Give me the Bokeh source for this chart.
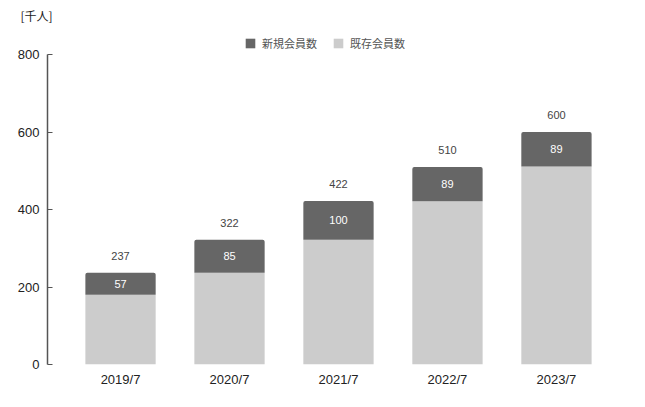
from bokeh.plotting import figure
from bokeh.models import ColumnDataSource, FixedTicker, Legend, LegendItem
from bokeh.core.properties import value
from bokeh.embed import file_html
from bokeh.resources import INLINE

categories = ["2019/7", "2020/7", "2021/7", "2022/7", "2023/7"]
totals = [237, 322, 422, 510, 600]
new_members = [57, 85, 100, 89, 89]
existing_members = [t - n for t, n in zip(totals, new_members)]
y_ticks = [0, 200, 400, 600, 800]

xs = list(range(len(categories)))
src = ColumnDataSource(dict(
    x=xs,
    existing=existing_members,
    new=new_members,
    total=totals,
    new_mid=[e + n / 2 for e, n in zip(existing_members, new_members)],
    new_txt=[str(n) for n in new_members],
    total_txt=[str(t) for t in totals],
))

NUM_FONT = "Liberation Sans"
JP_FONT = "Noto Sans CJK JP"

p = figure(width=629, height=391, output_backend="svg", toolbar_location=None,
           x_range=(-0.67, 4.45), y_range=(0, 880),
           min_border_left=47, min_border_right=24, min_border_top=23, min_border_bottom=27)
p.outline_line_color = None
p.xgrid.visible = False
p.ygrid.visible = False
p.background_fill_color = "white"

p.title.text = "[千人]"
p.title.align = "left"
p.title.offset = -27
p.title.standoff = 0
p.title.text_font = JP_FONT
p.title.text_font_size = "12px"
p.title.text_font_style = "normal"
p.title.text_color = "#222222"

r_exist = p.vbar(x="x", top="existing", bottom=0, width=0.645, source=src,
                 fill_color="#cccccc", line_color=None)
r_new = p.vbar(x="x", top="total", bottom="existing", width=0.645, source=src,
               fill_color="#666666", line_color=None, border_radius=[2, 2, 0, 0])

p.text(x="x", y="new_mid", text="new_txt", source=src, text_color="white",
       text_font=value(NUM_FONT), text_font_size="11px", text_align="center",
       text_baseline="middle")
p.text(x="x", y="total", text="total_txt", source=src, text_color="#444444",
       text_font=value(NUM_FONT), text_font_size="11px", text_align="center",
       text_baseline="middle", y_offset=-17)

# y axis
ya = p.yaxis[0]
ya.ticker = FixedTicker(ticks=y_ticks)
ya.bounds = (0, 800)
ya.major_tick_in = 5
ya.major_tick_out = 0
ya.minor_tick_line_color = None
ya.axis_line_color = "#555555"
ya.axis_line_width = 1.5
ya.major_tick_line_color = "#555555"
ya.major_tick_line_width = 1.2
ya.major_label_text_font = NUM_FONT
ya.major_label_text_font_size = "13px"
ya.major_label_text_color = "#222222"
ya.major_label_standoff = 8

# x axis
xa = p.xaxis[0]
xa.ticker = FixedTicker(ticks=xs)
xa.major_label_overrides = {i: c for i, c in zip(xs, categories)}
xa.axis_line_color = None
xa.major_tick_line_color = None
xa.major_tick_in = 0
xa.major_tick_out = 0
xa.minor_tick_line_color = None
xa.minor_tick_in = 0
xa.minor_tick_out = 0
xa.major_label_text_font = NUM_FONT
xa.major_label_text_font_size = "13px"
xa.major_label_text_color = "#222222"
xa.major_label_standoff = 7

legend = Legend(items=[LegendItem(label="新規会員数", renderers=[r_new]),
                       LegendItem(label="既存会員数", renderers=[r_exist])],
                orientation="horizontal", location=(197, 313),
                glyph_width=12, glyph_height=12, label_height=12,
                label_standoff=6, spacing=15, padding=0, margin=0,
                border_line_color=None, background_fill_alpha=0,
                label_text_font=JP_FONT, label_text_font_size="11px",
                label_text_color="#555555", label_text_baseline="middle")
p.add_layout(legend)

open("out.html", "w").write(file_html(p, INLINE))
